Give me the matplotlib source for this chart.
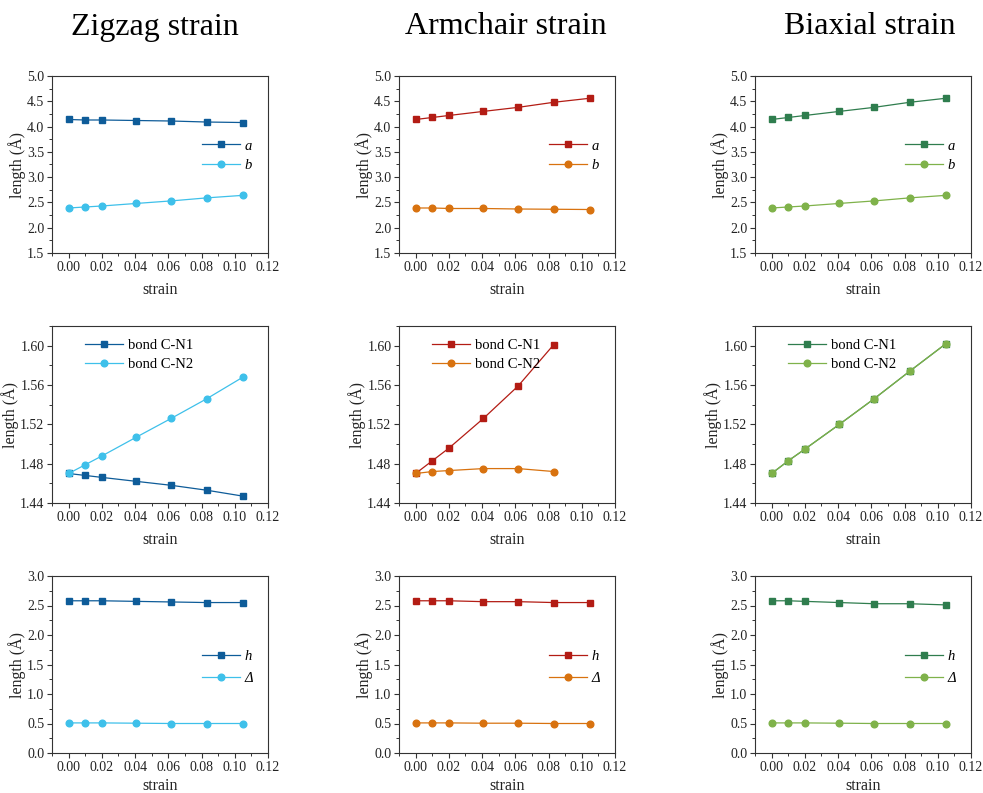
import matplotlib
matplotlib.use("Agg")
import matplotlib.pyplot as plt
from matplotlib.ticker import MultipleLocator, AutoMinorLocator

plt.rcParams['font.family'] = ['Liberation Serif', 'DejaVu Serif']
plt.rcParams['mathtext.fontset'] = 'stix'

# strain values shared by every panel
strain = [0.0, 0.0101, 0.0202, 0.0408, 0.0617, 0.0831, 0.1049]
strain_ac_bond = [0.0, 0.0101, 0.0202, 0.0408, 0.0617, 0.0831]

titles = ["Zigzag strain", "Armchair strain", "Biaxial strain"]

# lattice constants a, b
zz_a = [4.14, 4.13, 4.13, 4.12, 4.11, 4.09, 4.08]
zz_b = [2.39, 2.41, 2.43, 2.48, 2.53, 2.59, 2.64]
ac_a = [4.14, 4.18, 4.22, 4.30, 4.38, 4.48, 4.56]
ac_b = [2.39, 2.39, 2.38, 2.38, 2.37, 2.365, 2.36]
bi_a = [4.14, 4.18, 4.22, 4.30, 4.38, 4.48, 4.56]
bi_b = [2.39, 2.41, 2.43, 2.48, 2.53, 2.59, 2.64]

# C-N bond lengths
zz_cn1 = [1.470, 1.468, 1.466, 1.462, 1.458, 1.453, 1.447]
zz_cn2 = [1.470, 1.479, 1.488, 1.507, 1.526, 1.546, 1.568]
ac_cn1 = [1.470, 1.483, 1.496, 1.526, 1.559, 1.601]
ac_cn2 = [1.470, 1.472, 1.473, 1.475, 1.475, 1.472]
bi_cn1 = [1.470, 1.483, 1.495, 1.520, 1.546, 1.574, 1.602]
bi_cn2 = [1.470, 1.483, 1.495, 1.520, 1.546, 1.574, 1.602]

# buckling height h and thickness Delta
zz_h = [2.58, 2.58, 2.58, 2.57, 2.56, 2.55, 2.55]
zz_d = [0.51, 0.51, 0.51, 0.505, 0.50, 0.50, 0.50]
ac_h = [2.58, 2.58, 2.58, 2.565, 2.565, 2.55, 2.55]
ac_d = [0.51, 0.51, 0.51, 0.505, 0.505, 0.50, 0.50]
bi_h = [2.58, 2.58, 2.57, 2.55, 2.53, 2.53, 2.51]
bi_d = [0.51, 0.51, 0.51, 0.505, 0.50, 0.50, 0.50]

dark = ["#0e5c99", "#b31c14", "#2f7d4e"]
light = ["#3ec0ea", "#d8720f", "#7fb24a"]

fig = plt.figure(figsize=(9.83, 7.93), dpi=100)

lefts = [52, 399, 755]
tops = [76, 326, 576]
W, H = 216, 177

rows = [
    dict(data=[(strain, zz_a, strain, zz_b), (strain, ac_a, strain, ac_b), (strain, bi_a, strain, bi_b)],
         labels=("a", "b"), ylim=(1.5, 5.0), major=0.5, italic=True, spacing=0.4, xpad=6,
         legend=dict(loc="upper left", bbox_to_anchor=(0.668, 0.675))),
    dict(data=[(strain, zz_cn1, strain, zz_cn2), (strain_ac_bond, ac_cn1, strain_ac_bond, ac_cn2),
               (strain, bi_cn1, strain, bi_cn2)],
         labels=("bond C-N1", "bond C-N2"), ylim=(1.44, 1.62), major=0.04, italic=False, spacing=0.4, xpad=6,
         legend=dict(loc="upper left", bbox_to_anchor=(0.128, 0.96))),
    dict(data=[(strain, zz_h, strain, zz_d), (strain, ac_h, strain, ac_d), (strain, bi_h, strain, bi_d)],
         labels=("h", "Δ"), ylim=(0.0, 3.0), major=0.5, italic=True, spacing=0.62, xpad=3,
         legend=dict(loc="upper left", bbox_to_anchor=(0.668, 0.615))),
]

spine_c = "#333333"
for r, row in enumerate(rows):
    for c in range(3):
        x0 = lefts[c] / 983
        y0 = 1 - (tops[r] + H) / 793
        ax = fig.add_axes([x0, y0, W / 983, H / 793])
        x1, y1, x2, y2 = row["data"][c]
        ax.plot(x1, y1, '-s', color=dark[c], lw=0.9, ms=4.8, label=row["labels"][0])
        ax.plot(x2, y2, '-o', color=light[c], lw=0.9, ms=4.8, label=row["labels"][1])
        ax.set_xlim(-0.01, 0.12)
        ax.set_ylim(*row["ylim"])
        ax.xaxis.set_major_locator(MultipleLocator(0.02))
        ax.xaxis.set_minor_locator(AutoMinorLocator(2))
        ax.yaxis.set_major_locator(MultipleLocator(row["major"]))
        ax.yaxis.set_minor_locator(AutoMinorLocator(2))
        ax.xaxis.set_major_formatter(plt.FormatStrFormatter("%.2f"))
        if row["major"] < 0.1:
            ax.yaxis.set_major_formatter(plt.FormatStrFormatter("%.2f"))
        else:
            ax.yaxis.set_major_formatter(plt.FormatStrFormatter("%.1f"))
        ax.tick_params(which="major", direction="out", length=3.5, width=0.8,
                       labelsize=10, colors=spine_c, labelcolor="#222222", pad=2)
        ax.tick_params(which="minor", direction="out", length=2, width=0.7, colors=spine_c)
        for s in ax.spines.values():
            s.set_color(spine_c)
            s.set_linewidth(0.8)
        ax.set_xlabel("strain", fontsize=11.5, labelpad=row["xpad"], color="#222222")
        ax.set_ylabel("length (Å)", fontsize=11.5, labelpad=1, color="#222222")
        prop = dict(size=10.5, style="italic" if row["italic"] else "normal")
        ax.legend(frameon=False, prop=prop, handlelength=2.6, handletextpad=0.3,
                  labelspacing=row["spacing"], borderaxespad=0, **row["legend"])

for txt, xc in zip(titles, [155, 506, 870]):
    fig.text(xc / 983, 1 - 27 / 793, txt, ha="center", va="center", fontsize=23, color="black")

fig.savefig("out.png", dpi=100)
